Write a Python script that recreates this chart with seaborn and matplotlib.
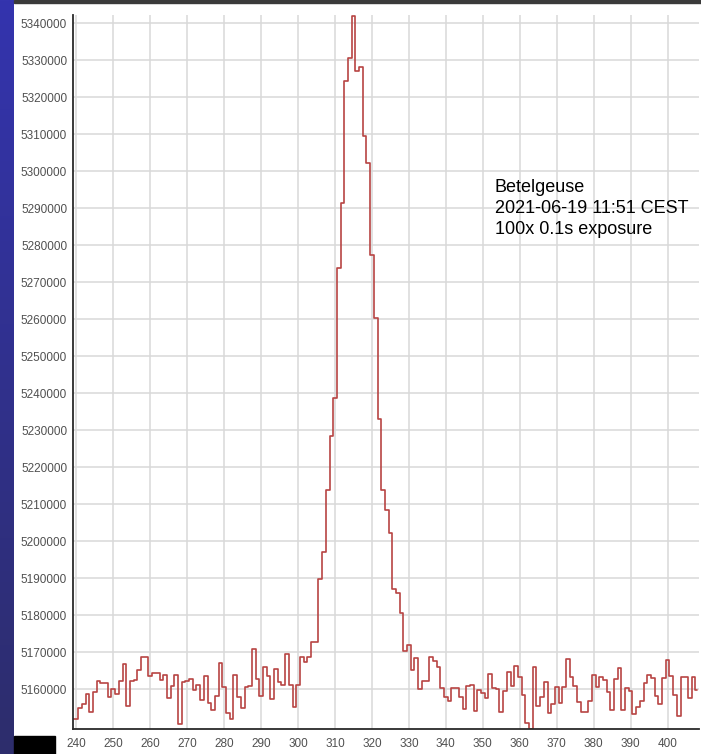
import matplotlib
matplotlib.use("Agg")
import matplotlib.pyplot as plt
from matplotlib.patches import Rectangle
from matplotlib.colors import LinearSegmentedColormap
from matplotlib.ticker import MultipleLocator, FuncFormatter
import numpy as np
import pandas as pd
import seaborn as sns

# pixel positions (bin centres) and summed counts, in thousands
pixel = list(range(239, 409))
counts_k = [
    5152.0, 5152.0, 5154.9, 5156.1, 5158.8, 5153.8, 5159.2, 5162.2, 5161.8, 5161.8,   # 239-248
    5158.0, 5160.0, 5158.8, 5162.3, 5166.9, 5155.5, 5162.3, 5162.4, 5165.3, 5168.8,   # 249-258
    5168.6, 5163.6, 5164.5, 5164.5, 5162.4, 5163.8, 5157.6, 5160.9, 5163.9, 5150.6,   # 259-268
    5162.0, 5162.2, 5162.7, 5159.8, 5161.2, 5157.2, 5163.5, 5156.2, 5154.4, 5158.3,   # 269-278
    5167.2, 5160.7, 5153.5, 5152.1, 5163.9, 5158.0, 5154.9, 5160.5, 5161.0, 5170.8,   # 279-288
    5162.7, 5158.2, 5165.9, 5163.6, 5157.3, 5165.4, 5162.1, 5161.2, 5169.5, 5161.2,   # 289-298
    5155.3, 5161.2, 5168.8, 5167.5, 5168.6, 5172.9, 5172.9, 5189.7, 5197.2, 5213.9,   # 299-308
    5228.5, 5238.6, 5273.8, 5291.5, 5324.4, 5330.5, 5342.1, 5327.2, 5328.1, 5309.5,   # 309-318
    5302.2, 5277.4, 5260.3, 5233.0, 5213.9, 5208.5, 5202.2, 5187.0, 5185.9, 5180.7,   # 319-328
    5170.3, 5171.9, 5165.1, 5168.4, 5160.0, 5162.3, 5162.3, 5168.8, 5167.7, 5165.9,   # 329-338
    5160.3, 5157.8, 5156.8, 5160.3, 5160.3, 5157.8, 5154.6, 5160.8, 5161.2, 5154.2,   # 339-348
    5159.9, 5159.0, 5157.6, 5164.2, 5160.3, 5160.2, 5154.0, 5159.5, 5164.6, 5161.0,   # 349-358
    5166.4, 5163.4, 5158.5, 5151.0, 5149.2, 5166.1, 5155.6, 5158.0, 5161.9, 5153.5,   # 359-368
    5155.9, 5160.7, 5156.2, 5160.5, 5168.2, 5163.4, 5161.0, 5156.6, 5154.0, 5153.8,   # 369-378
    5156.8, 5163.9, 5160.7, 5163.4, 5162.5, 5159.4, 5154.4, 5162.8, 5165.8, 5154.4,   # 379-388
    5160.3, 5159.5, 5153.2, 5155.3, 5156.8, 5161.6, 5163.9, 5163.0, 5158.3, 5155.9,   # 389-398
    5163.0, 5167.9, 5163.7, 5158.5, 5152.9, 5163.2, 5163.2, 5157.7, 5163.2, 5159.8,   # 399-408
]
counts = [c * 1000 for c in counts_k]

x_ticks = list(range(240, 401, 10))
y_ticks = list(range(5160000, 5340001, 10000))

label_lines = ["Betelgeuse", "2021-06-19 11:51 CEST", "100x 0.1s exposure"]

df = pd.DataFrame({"pixel": pixel, "counts": counts})

sns.set_theme(style="white")
plt.rcParams["font.family"] = ["Liberation Sans", "DejaVu Sans"]

W, H = 701, 754
fig = plt.figure(figsize=(W / 100, H / 100), dpi=100)
fig.patch.set_facecolor("white")

# blue gradient strip on the left edge
strip = fig.add_axes([0, 0, 14 / W, 1])
grad = np.linspace(0, 1, 256).reshape(-1, 1)
cmap = LinearSegmentedColormap.from_list("strip", ["#3434ae", "#2d2d6c"])
strip.imshow(grad, aspect="auto", cmap=cmap)
strip.axis("off")

# dark bar on top and black box bottom-left
fig.patches.append(Rectangle((14 / W, 1 - 3 / H), 1, 3 / H, transform=fig.transFigure,
                             color="#3a3a3a", zorder=0))
fig.patches.append(Rectangle((14 / W, 0), 41 / W, 18 / H, transform=fig.transFigure,
                             color="black", zorder=0))

ax = fig.add_axes([72.7 / W, (H - 729.3) / H, (699 - 72.7) / W, (729.3 - 15) / H])
sns.lineplot(data=df, x="pixel", y="counts", ax=ax, drawstyle="steps-mid",
             color="#b84443", linewidth=1.2)

ax.set_xlim(239.0, 408.5)
ax.set_ylim(5149190, 5342240)
ax.set_xticks(x_ticks)
ax.set_yticks(y_ticks)
ax.xaxis.set_minor_locator(MultipleLocator(1))
ax.yaxis.set_minor_locator(MultipleLocator(1000))
ax.yaxis.set_major_formatter(FuncFormatter(lambda v, p: f"{int(round(v))}"))
ax.set_xlabel("")
ax.set_ylabel("")

ax.grid(which="major", color="#d9d9d9", linewidth=1.1)
ax.set_axisbelow(True)
ax.tick_params(which="major", length=0, labelsize=8.5, labelcolor="#505050")
ax.tick_params(axis="x", which="major", pad=6.5)
ax.tick_params(axis="y", which="major", pad=4)
ax.tick_params(which="minor", direction="in", length=3.5, width=0.7, color="#b8b8b8")

for side in ["top", "right"]:
    ax.spines[side].set_visible(False)
for side in ["left", "bottom"]:
    ax.spines[side].set_color("#2a2a2a")
    ax.spines[side].set_linewidth(1.3)

fig.text(495 / W, 1 - 179 / H, "\n".join(label_lines), ha="left", va="top",
         fontsize=13, color="black", linespacing=1.3)

fig.savefig("out.png", dpi=100)
